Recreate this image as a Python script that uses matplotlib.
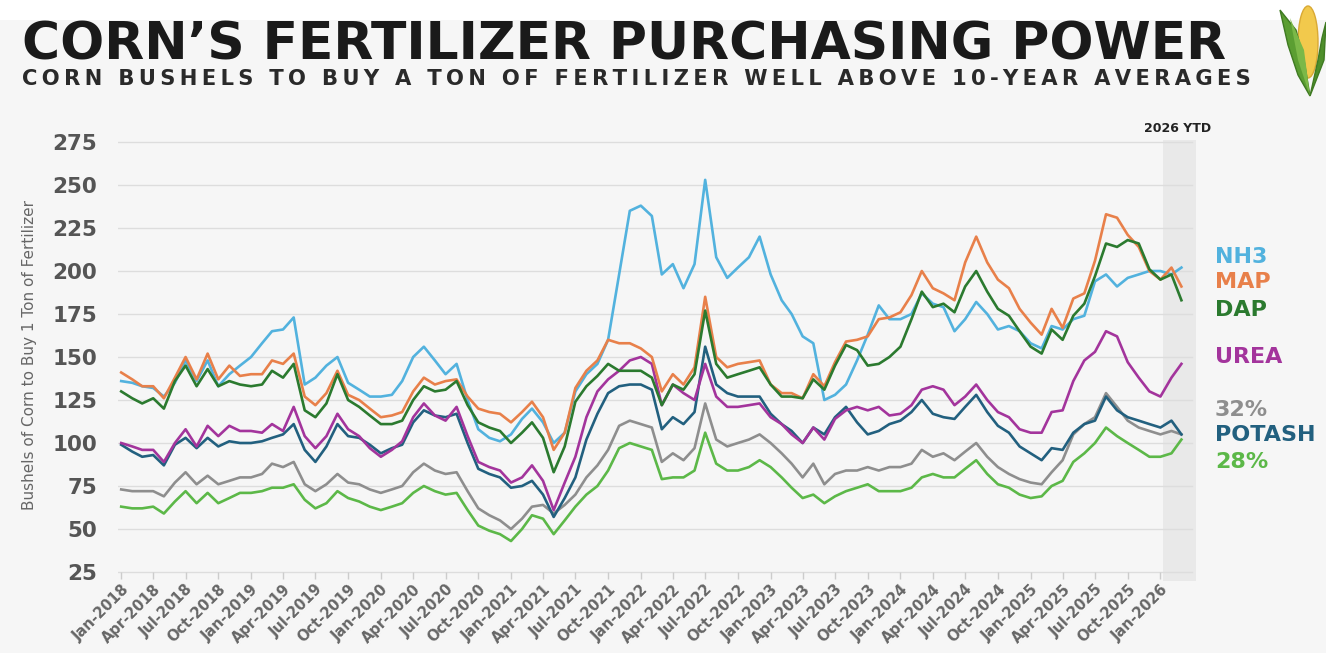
import numpy as np
import pandas as pd
import matplotlib
matplotlib.use("Agg")
import matplotlib.pyplot as plt
import matplotlib.dates as mdates
from matplotlib.patches import Ellipse, Polygon, Rectangle

W, H = 1326, 653

months = pd.date_range("2018-01-01", periods=99, freq="MS")

nh3 = [136, 135, 133, 132, 127, 135, 148, 136, 148, 133, 140, 145,
       150, 158, 165, 166, 173, 134, 138, 145, 150, 135, 131, 127,
       127, 128, 136, 150, 156, 148, 140, 146, 125, 108, 103, 101,
       105, 114, 120, 112, 100, 106, 130, 140, 146, 160, 198, 235,
       238, 232, 198, 204, 190, 204, 253, 208, 196, 202, 208, 220,
       198, 183, 175, 162, 158, 125, 128, 134, 148, 163, 180, 172,
       172, 175, 187, 181, 179, 165, 172, 182, 175, 166, 168, 165,
       158, 155, 168, 166, 172, 174, 194, 198, 191, 196, 198, 200,
       200, 198, 202]
map_ = [141, 137, 133, 133, 126, 138, 150, 137, 152, 137, 145, 139,
        140, 140, 148, 146, 152, 127, 122, 129, 142, 128, 125, 120,
        115, 116, 118, 130, 138, 134, 136, 137, 127, 120, 118, 117,
        112, 118, 124, 115, 96, 106, 132, 142, 148, 160, 158, 158,
        155, 150, 130, 140, 134, 144, 185, 150, 144, 146, 147, 148,
        134, 129, 129, 126, 140, 133, 147, 159, 160, 162, 172, 173,
        176, 186, 200, 190, 187, 183, 205, 220, 205, 195, 190, 178,
        170, 163, 178, 167, 184, 187, 206, 233, 231, 221, 214, 200,
        195, 202, 191]
dap = [130, 126, 123, 126, 120, 136, 145, 133, 143, 133, 136, 134,
       133, 134, 142, 138, 146, 119, 115, 123, 140, 125, 121, 116,
       111, 111, 113, 125, 133, 130, 131, 136, 122, 112, 109, 107,
       100, 106, 112, 103, 83, 98, 124, 133, 139, 146, 142, 142,
       142, 138, 122, 134, 131, 140, 177, 146, 138, 140, 142, 144,
       134, 127, 127, 126, 137, 131, 145, 157, 154, 145, 146, 150,
       156, 172, 188, 179, 181, 176, 191, 200, 188, 178, 174, 165,
       156, 152, 166, 160, 174, 181, 197, 216, 214, 218, 216, 201,
       195, 198, 183]
urea = [100, 98, 96, 96, 89, 100, 108, 98, 110, 104, 110, 107,
        107, 106, 111, 107, 121, 104, 97, 104, 117, 108, 104, 97,
        92, 96, 101, 115, 123, 116, 113, 121, 104, 89, 86, 84,
        77, 80, 87, 78, 61, 77, 92, 115, 130, 137, 142, 148,
        150, 146, 122, 134, 129, 125, 146, 127, 121, 121, 122, 123,
        115, 111, 105, 100, 109, 102, 114, 119, 121, 119, 121, 116,
        117, 122, 131, 133, 131, 122, 127, 134, 125, 118, 115, 108,
        106, 106, 118, 119, 136, 148, 153, 165, 162, 147, 138, 130,
        127, 138, 146]
potash = [99, 95, 92, 93, 87, 99, 103, 97, 103, 98, 101, 100,
          100, 101, 103, 105, 111, 96, 89, 98, 111, 104, 103, 99,
          94, 97, 99, 112, 119, 116, 115, 117, 100, 85, 82, 80,
          74, 75, 78, 70, 57, 68, 80, 102, 117, 129, 133, 134,
          134, 131, 108, 115, 111, 118, 156, 134, 129, 127, 127, 127,
          117, 111, 107, 100, 109, 105, 115, 121, 112, 105, 107, 111,
          113, 118, 125, 117, 115, 114, 121, 128, 118, 110, 106, 98,
          94, 90, 97, 96, 106, 111, 113, 127, 119, 115, 113, 111,
          109, 113, 105]
uan32 = [73, 72, 72, 72, 69, 77, 83, 76, 81, 76, 78, 80,
         80, 82, 88, 86, 89, 76, 72, 76, 82, 77, 76, 73,
         71, 73, 75, 83, 88, 84, 82, 83, 72, 62, 58, 55,
         50, 56, 63, 64, 59, 64, 70, 80, 87, 96, 110, 113,
         111, 109, 89, 94, 90, 97, 123, 102, 98, 100, 102, 105,
         100, 94, 88, 80, 88, 76, 82, 84, 84, 86, 84, 86,
         86, 88, 96, 92, 94, 90, 95, 100, 92, 86, 82, 79,
         77, 76, 83, 90, 105, 111, 115, 129, 121, 113, 109, 107,
         105, 107, 105]
uan28 = [63, 62, 62, 63, 59, 66, 72, 65, 71, 65, 68, 71,
         71, 72, 74, 74, 76, 67, 62, 65, 72, 68, 66, 63,
         61, 63, 65, 71, 75, 72, 70, 71, 61, 52, 49, 47,
         43, 50, 58, 56, 47, 55, 63, 70, 75, 84, 97, 100,
         98, 96, 79, 80, 80, 84, 106, 88, 84, 84, 86, 90,
         86, 80, 74, 68, 70, 65, 69, 72, 74, 76, 72, 72,
         72, 74, 80, 82, 80, 80, 85, 90, 82, 76, 74, 70,
         68, 69, 75, 78, 89, 94, 100, 109, 104, 100, 96, 92,
         92, 94, 102]

series_names = ["28%", "32%", "POTASH", "UREA", "NH3", "MAP", "DAP"]
series_values = [uan28, uan32, potash, urea, nh3, map_, dap]
series_colors = ["#5cb848", "#8e8e8e", "#22607f", "#a3349c", "#52b2de", "#e8804a", "#2b7a2f"]

# right-hand labels: (name, y pixel in figure)
label_order = ["NH3", "MAP", "DAP", "UREA", "32%", "POTASH", "28%"]
label_ypix = [257, 282, 310, 357, 410, 435, 462]

yticks = [25, 50, 75, 100, 125, 150, 175, 200, 225, 250, 275]
xtick_dates = pd.date_range("2018-01-01", "2026-01-01", freq="3MS")

bg = "#f6f6f6"
fig = plt.figure(figsize=(W / 100, H / 100), dpi=100, facecolor=bg)
fig.patches.append(Rectangle((0, 1 - 20 / H), 1, 20 / H, transform=fig.transFigure,
                             facecolor="white", edgecolor="none", zorder=-5))

ax = fig.add_axes([118 / W, 1 - 580.6 / H, (1196 - 118) / W, (580.6 - 140.3) / H])
ax.set_facecolor(bg)
for s in ax.spines.values():
    s.set_visible(False)

x_left = pd.Timestamp("2017-12-23")
x_right = pd.Timestamp("2026-04-11")
ax.set_xlim(x_left, x_right)
ax.set_ylim(20, 276)

# 2026 YTD band
ax.axvspan(pd.Timestamp("2026-01-09"), x_right, color="#e9e9e9", zorder=0, lw=0)
fig.text(1178 / W, 1 - 128 / H, "2026 YTD", ha="center", va="center",
         fontsize=9, fontweight="bold", color="#222222", family="DejaVu Sans")

grid_end = (mdates.date2num(pd.Timestamp("2026-04-01")) - mdates.date2num(x_left)) / \
           (mdates.date2num(x_right) - mdates.date2num(x_left))
for yv in yticks:
    ax.axhline(yv, color="#dddddd", lw=1.0, zorder=1, xmax=grid_end)

for name, vals, col in zip(series_names, series_values, series_colors):
    ax.plot(months, vals, color=col, lw=1.9, zorder=3, solid_joinstyle="round")

ax.set_yticks(yticks)
ax.set_yticklabels([str(v) for v in yticks])
ax.tick_params(axis="y", length=0, pad=15, labelsize=15.5, labelcolor="#555555")
for lab in ax.get_yticklabels():
    lab.set_fontweight("bold")
    lab.set_family("DejaVu Sans")

ax.set_xticks(xtick_dates)
ax.set_xticklabels([d.strftime("%b-%Y") for d in xtick_dates])
ax.tick_params(axis="x", length=5, width=1, color="#cccccc", pad=2,
               labelsize=10.5, labelcolor="#666666")
ax.xaxis.set_ticks_position("bottom")
ax.spines["bottom"].set_position(("data", 25))
for lab in ax.get_xticklabels():
    lab.set_rotation(45)
    lab.set_ha("right")
    lab.set_rotation_mode("anchor")
    lab.set_fontweight("bold")
    lab.set_family("DejaVu Sans")

fig.text(30 / W, 1 - 355 / H, "Bushels of Corn to Buy 1 Ton of Fertilizer", rotation=90,
         ha="center", va="center", fontsize=11, color="#666666", family="DejaVu Sans")

# right labels
color_of = dict(zip(series_names, series_colors))
for name, yp in zip(label_order, label_ypix):
    fig.text(1215 / W, 1 - yp / H, name, ha="left", va="center", fontsize=16,
             fontweight="bold", color=color_of[name], family="DejaVu Sans")

# title and subtitle, fitted to width
renderer = fig.canvas.get_renderer()


def fit_text(txt, x0, ybase, width_px, fs, **kw):
    t = fig.text(x0 / W, 1 - ybase / H, txt, ha="left", va="baseline", fontsize=fs, **kw)
    w = t.get_window_extent(renderer).width
    t.set_fontsize(fs * width_px / w)
    return t


fit_text("CORN\u2019S FERTILIZER PURCHASING POWER", 22, 59, 1206, 36,
         fontweight="bold", color="#1a1a1a", family=["DejaVu Sans"])
subtitle = "CORN BUSHELS TO BUY A TON OF FERTILIZER WELL ABOVE 10-YEAR AVERAGES"
fit_text("\u2009".join(subtitle), 22, 85, 1228, 14,
         fontweight="bold", color="#2a2a2a", family=["DejaVu Sans"])

# corn logo
lax = fig.add_axes([1274 / W, 1 - 100 / H, 52 / W, 96 / H])
lax.set_xlim(0, 52)
lax.set_ylim(0, 96)
lax.axis("off")
lax.add_patch(Ellipse((34, 58), 20, 72, facecolor="#f2c94c", edgecolor="#d9a934", lw=1))
lax.add_patch(Polygon([[6, 90], [14, 55], [24, 25], [36, 4], [30, 40], [22, 70]], closed=True,
                      facecolor="#5b9e32", edgecolor="#3f7a22", lw=1))
lax.add_patch(Polygon([[52, 78], [50, 40], [36, 4], [44, 40], [48, 62]], closed=True,
                      facecolor="#4e8f2b", edgecolor="#3f7a22", lw=1))
lax.add_patch(Polygon([[16, 82], [24, 40], [36, 4], [30, 50]], closed=True,
                      facecolor="#7bb848", edgecolor="none"))

fig.savefig("out.png", dpi=100, facecolor=bg)
